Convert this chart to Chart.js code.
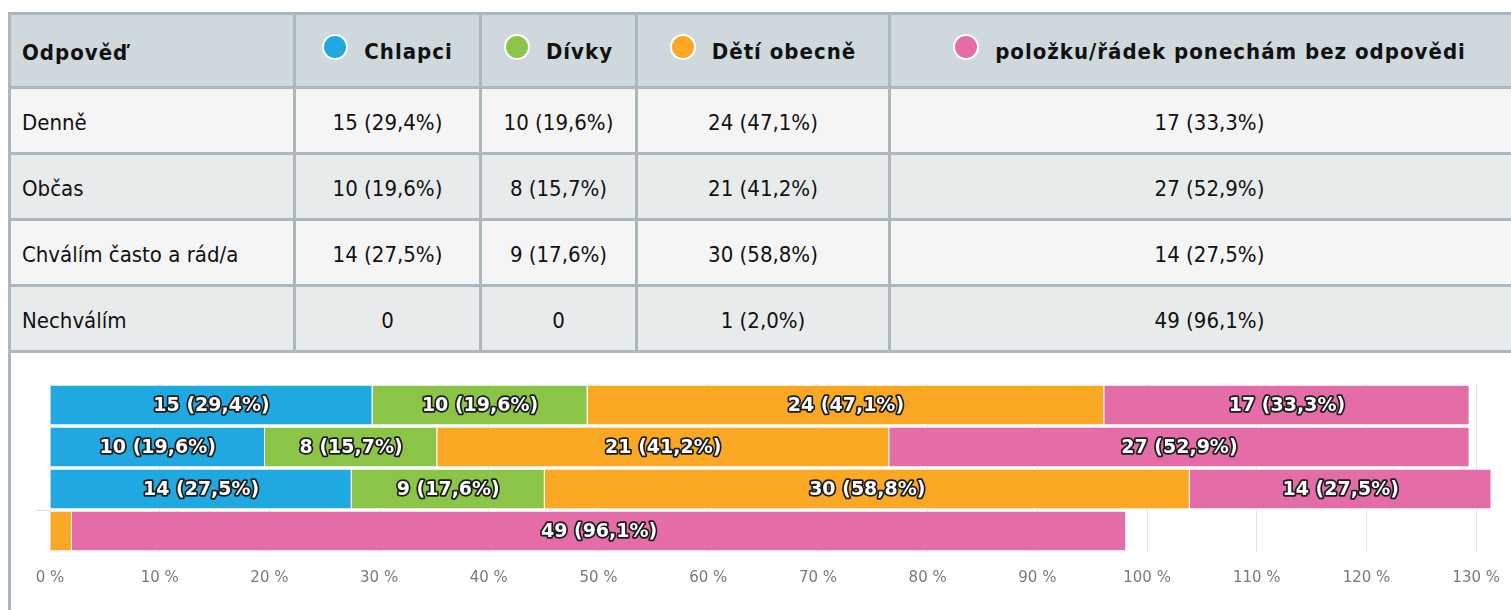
<!DOCTYPE html>
<html>
<head>
<meta charset="utf-8">
<script src="https://cdn.jsdelivr.net/npm/chart.js@4"></script>
<style>
  body { margin: 0; background: #fff; overflow: hidden; width: 1511px; height: 610px; }
  #tbl {
    position: absolute; left: 8px; top: 12px; width: 1523px;
    border-spacing: 0; table-layout: fixed;
    border-top: 3px solid #aab7bc; border-left: 3px solid #aab7bc;
    font-family: "Liberation Sans Narrow", "DejaVu Sans Condensed", sans-serif;
    font-size: 22px; color: #111;
  }
  #tbl th, #tbl td {
    box-sizing: border-box;
    border-right: 3px solid #aab7bc; border-bottom: 3px solid #aab7bc;
    padding: 0; text-align: center; vertical-align: middle; white-space: nowrap;
  }
  #tbl th { height: 74px; padding-top: 3px; background: #cfd8dc; font-weight: bold; letter-spacing: 1px; }
  #tbl td { height: 66px; padding-top: 3px; }
  #tbl tr:nth-child(odd) td { background: #f5f5f5; }
  #tbl tr:nth-child(even) td { background: #e7ebec; }
  #tbl th:first-child, #tbl td:first-child { text-align: left; padding-left: 11px; }
  .dot {
    display: inline-block; width: 22px; height: 22px; border-radius: 50%;
    border: 2px solid #fff; margin-right: 16px; vertical-align: middle;
    position: relative; top: -6px;
  }
  #wrap {
    position: absolute; left: 8px; top: 353px; width: 1503px; height: 260px;
    border-left: 3px solid #aab7bc;
  }
</style>
</head>
<body>
<table id="tbl">
  <colgroup>
    <col style="width:285px"><col style="width:186px"><col style="width:156px"><col style="width:253px"><col style="width:640px">
  </colgroup>
  <thead><tr id="head"></tr></thead>
  <tbody id="body"></tbody>
</table>
<div id="wrap"><canvas id="chart" width="1506" height="257"></canvas></div>
<script>
"use strict"

const categories = ["Denně", "Občas", "Chválím často a rád/a", "Nechválím"];
const seriesNames = ["Chlapci", "Dívky", "Dětí obecně", "položku/řádek ponechám bez odpovědi"];
const colors = ["#20a9e0", "#8bc547", "#faa823", "#e46da8"];

// counts per series
const chlapciCounts = [15, 10, 14, 0];
const divkyCounts = [10, 8, 9, 0];
const detiCounts = [24, 21, 30, 1];
const bezCounts = [17, 27, 14, 49];

// percentages per series
const chlapciPct = [29.4, 19.6, 27.5, 0];
const divkyPct = [19.6, 15.7, 17.6, 0];
const detiPct = [47.1, 41.2, 58.8, 2.0];
const bezPct = [33.3, 52.9, 27.5, 96.1];

const xTicks = [0, 10, 20, 30, 40, 50, 60, 70, 80, 90, 100, 110, 120, 130];

const counts = [chlapciCounts, divkyCounts, detiCounts, bezCounts];
const pcts = [chlapciPct, divkyPct, detiPct, bezPct];

function cellText(c, p) {
  if (!c) return "0";
  return c + " (" + p.toFixed(1).replace(".", ",") + "%)";
}

// table
const head = document.getElementById("head");
let h = "<th>Odpověď</th>";
seriesNames.forEach((s, i) => {
  h += '<th><span class="dot" style="background:' + colors[i] + '"></span>' + s + "</th>";
});
head.innerHTML = h;

const body = document.getElementById("body");
let b = "";
categories.forEach((cat, r) => {
  b += "<tr><td>" + cat + "</td>";
  for (let s = 0; s < seriesNames.length; s++) b += "<td>" + cellText(counts[s][r], pcts[s][r]) + "</td>";
  b += "</tr>";
});
body.innerHTML = b;

// labels inside the bar segments
const segLabels = {
  id: "segLabels",
  afterDatasetsDraw(chart) {
    const ctx = chart.ctx;
    ctx.save();
    ctx.font = 'bold 19px "DejaVu Sans"';
    ctx.textAlign = "center";
    ctx.textBaseline = "middle";
    ctx.lineJoin = "round";
    ctx.lineWidth = 3.5;
    ctx.strokeStyle = "#1b1b1b";
    ctx.fillStyle = "#fff";
    chart.data.datasets.forEach((ds, di) => {
      chart.getDatasetMeta(di).data.forEach((bar, i) => {
        const c = counts[di][i];
        if (!c) return;
        const t = cellText(c, pcts[di][i]);
        const w = Math.abs(bar.x - bar.base);
        if (ctx.measureText(t).width + 6 > w) return;
        const x = (bar.x + bar.base) / 2;
        ctx.strokeText(t, x, bar.y + 1);
        ctx.fillText(t, x, bar.y + 1);
      });
    });
    ctx.restore();
  }
};

new Chart(document.getElementById("chart"), {
  type: "bar",
  data: {
    labels: categories,
    datasets: seriesNames.map((s, i) => ({
      label: s,
      data: pcts[i],
      backgroundColor: colors[i],
      borderColor: "#fff",
      borderWidth: 1,
      barPercentage: 0.96,
      categoryPercentage: 1,
      clip: false
    }))
  },
  options: {
    indexAxis: "y",
    responsive: false,
    animation: false,
    layout: { padding: { left: 25, right: 29, top: 31, bottom: 6 } },
    plugins: { legend: { display: false }, tooltip: { enabled: false } },
    scales: {
      x: {
        stacked: true,
        min: 0,
        max: 130,
        afterBuildTicks: (axis) => { axis.ticks = xTicks.map(v => ({ value: v })); },
        grid: { color: "#e4e4e4", drawTicks: false },
        border: { display: false },
        ticks: {
          padding: 17,
          color: "#7a7a7a",
          font: { family: "DejaVu Sans", size: 15 },
          callback: (v) => v + " %"
        }
      },
      y: {
        stacked: true,
        ticks: { display: false },
        border: { display: false },
        grid: {
          drawOnChartArea: false,
          tickLength: 14,
          color: (c) => c.index === 3 ? "#d3ddf2" : "rgba(0,0,0,0)"
        }
      }
    }
  },
  plugins: [segLabels]
});
</script>
</body>
</html>
